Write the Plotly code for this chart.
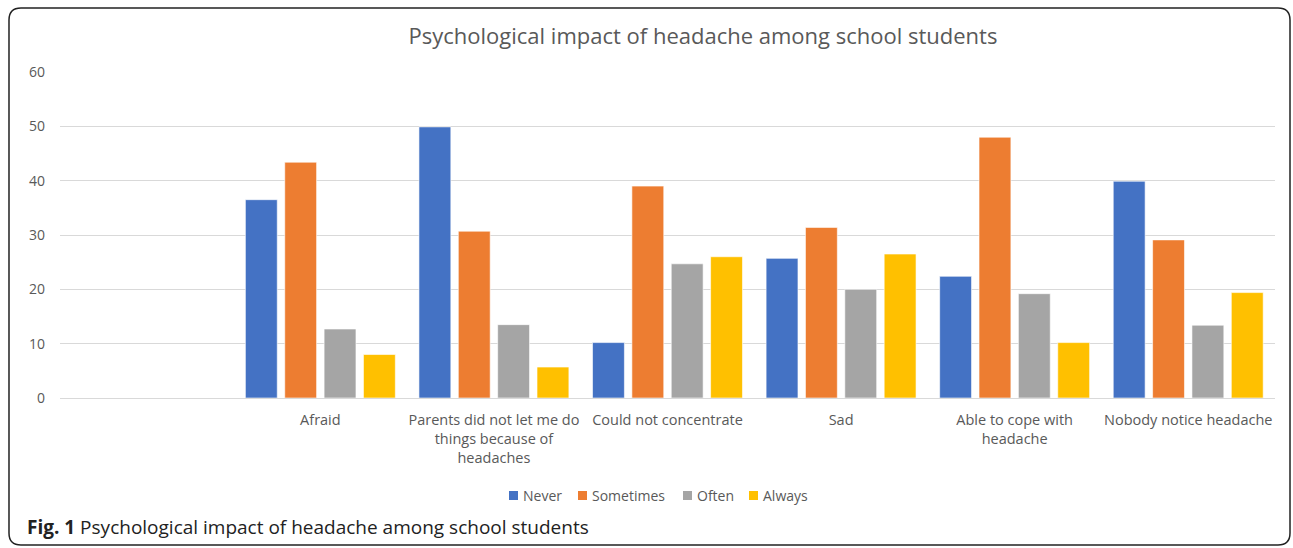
import plotly.graph_objects as go

categories = ["Afraid",
              "Parents did not let me do<br>things because of<br>headaches",
              "Could not concentrate",
              "Sad",
              "Able to cope with<br>headache",
              "Nobody notice headache"]
series_names = ["Never", "Sometimes", "Often", "Always"]
never = [36.5, 49.9, 10.2, 25.7, 22.4, 39.9]
sometimes = [43.4, 30.7, 39.0, 31.4, 48.0, 29.1]
often = [12.7, 13.5, 24.7, 20.0, 19.2, 13.4]
always = [8.0, 5.7, 26.0, 26.5, 10.2, 19.4]
y_ticks = [0, 10, 20, 30, 40, 50, 60]

colors = ["#4472C4", "#ED7D31", "#A5A5A5", "#FFC000"]
FONT = "Open Sans"
W, H = 1293, 548
L, R, T, B = 60, 18, 72, 150
pw, ph = W - L - R, H - T - B

fig = go.Figure()
for name, vals, c in zip(series_names, [never, sometimes, often, always], colors):
    fig.add_trace(go.Bar(x=categories, y=vals, name=name, showlegend=False,
                         marker=dict(color=c, line=dict(color="rgba(255,255,255,0.6)", width=1))))

def px2paper(x, y):
    return (x - L) / pw, 1 - (y - T) / ph

# rounded border
x0, y0, x1, y1, r = 9, 8, 1290, 545, 12
def P(x, y):
    a, b = px2paper(x, y)
    return f"{a:.5f},{b:.5f}"
path = (f"M {P(x0 + r, y0)} L {P(x1 - r, y0)} Q {P(x1, y0)} {P(x1, y0 + r)} "
        f"L {P(x1, y1 - r)} Q {P(x1, y1)} {P(x1 - r, y1)} "
        f"L {P(x0 + r, y1)} Q {P(x0, y1)} {P(x0, y1 - r)} "
        f"L {P(x0, y0 + r)} Q {P(x0, y0)} {P(x0 + r, y0)} Z")
fig.add_shape(type="path", path=path, xref="paper", yref="paper",
              line=dict(color="#222222", width=1.5), layer="above")

# custom legend (matches the reference's tight spacing)
legend_x = [509, 578, 683, 749]
ly_c = 495.5
for name, c, lx in zip(series_names, colors, legend_x):
    ax0, ay0 = px2paper(lx, ly_c - 4.5)
    ax1, ay1 = px2paper(lx + 9, ly_c + 4.5)
    fig.add_shape(type="rect", xref="paper", yref="paper", x0=ax0, x1=ax1, y0=ay1, y1=ay0,
                  fillcolor=c, line=dict(width=0))
    tx, ty = px2paper(lx + 12, ly_c)
    fig.add_annotation(text=name, xref="paper", yref="paper", x=tx, y=ty,
                       xanchor="left", yanchor="middle", showarrow=False,
                       font=dict(family=FONT, size=14, color="#595959"))

cx, cy = px2paper(25, 527)
fig.add_annotation(text="<b>Fig. 1</b> Psychological impact of headache among school students",
                   xref="paper", yref="paper", x=cx, y=cy, xanchor="left", yanchor="middle",
                   showarrow=False, font=dict(family=FONT, size=19, color="#222222"))

fig.update_layout(
    width=W, height=H,
    margin=dict(l=L, r=R, t=T, b=B, autoexpand=False),
    paper_bgcolor="white", plot_bgcolor="white",
    font=dict(family=FONT, color="#595959", size=14),
    title=dict(text="Psychological impact of headache among school students",
               x=703 / W, xref="container", xanchor="center",
               y=1 - 36 / H, yref="container", yanchor="middle",
               font=dict(family=FONT, size=22, color="#595959")),
    barmode="group", bargap=0.093, bargroupgap=0.19,
    showlegend=False,
    xaxis=dict(range=[-1.5, 5.5], showgrid=False, showline=True, linecolor="#d9d9d9",
               linewidth=1, ticks="", tickfont=dict(family=FONT, size=14.5, color="#595959"),
               ticklabelstandoff=9, fixedrange=True, zeroline=False),
    yaxis=dict(range=[0, 60], tickvals=y_ticks, showgrid=True, gridcolor="#d9d9d9",
               gridwidth=1, zeroline=False, showline=False, ticks="",
               tickfont=dict(family=FONT, size=14, color="#595959"), ticklabelstandoff=14),
)
fig.write_html("out.html")
